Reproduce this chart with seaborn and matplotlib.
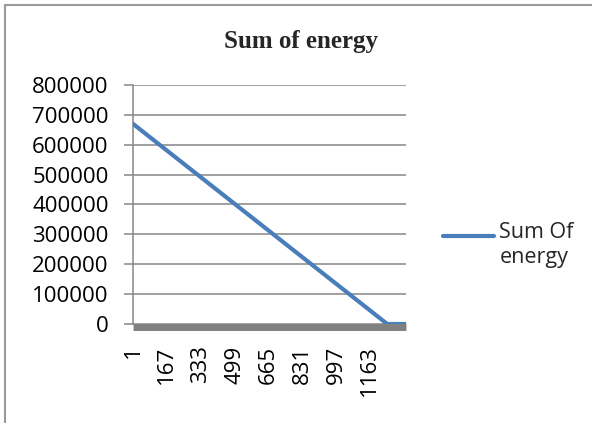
import pandas as pd
import matplotlib
matplotlib.use("Agg")
import matplotlib.pyplot as plt
import seaborn as sns
from matplotlib.lines import Line2D

# values: row number vs. summed energy
row = [1, 1248, 1340]
energy = [670000, 0, 0]
x_ticks = [1, 167, 333, 499, 665, 831, 997, 1163]
y_ticks = [0, 100000, 200000, 300000, 400000, 500000, 600000, 700000, 800000]

df = pd.DataFrame({"row": row, "energy": energy})

sns.set_theme(style="white")
plt.rcParams["font.family"] = ["Open Sans", "DejaVu Sans"]

fig = plt.figure(figsize=(5.92, 4.23), dpi=100)
ax = fig.add_axes([133 / 592, 1 - 324 / 423, 273 / 592, 239 / 423])

sns.lineplot(data=df, x="row", y="energy", ax=ax, color="#4a7ebb",
             linewidth=3, label="Sum Of\nenergy", zorder=3)

ax.set_xlim(1, 1340)
ax.set_ylim(0, 800000)
ax.set_xticks(x_ticks)
ax.set_xticklabels([str(v) for v in x_ticks])
ax.set_yticks(y_ticks)
ax.set_yticklabels([str(v) for v in y_ticks])
ax.set_xlabel("")
ax.set_ylabel("")

# gridlines and axes in excel grey
ax.yaxis.grid(True, color="#868686", linewidth=1.1)
ax.xaxis.grid(False)
ax.set_axisbelow(True)
for s in ["top", "right"]:
    ax.spines[s].set_visible(False)
ax.spines["left"].set_color("#868686")
ax.spines["left"].set_linewidth(1.1)
ax.spines["bottom"].set_color("#808080")
ax.spines["bottom"].set_linewidth(5)
ax.spines["bottom"].set_capstyle("butt")
ax.spines["bottom"].set_position(("outward", 2.5))

ax.tick_params(axis="y", left=True, length=6.5, width=1.1, color="#868686",
               pad=11, labelsize=16, labelcolor="black")
ax.tick_params(axis="x", bottom=True, length=0, pad=13, labelsize=16,
               labelrotation=90, labelcolor="black")

leg = ax.legend(loc="center left", bbox_to_anchor=(443 / 592, 1 - 245 / 423),
                bbox_transform=fig.transFigure, frameon=False, fontsize=15.5,
                handlelength=2.37, handletextpad=0.25, borderpad=0,
                borderaxespad=0)
# excel puts the legend line level with the first text line
for h in leg.get_lines():
    h.set_ydata([y + 6.5 for y in h.get_ydata()])

fig.text(301 / 592, 1 - 48 / 423, "Sum of energy", ha="center", va="baseline",
         fontsize=18, fontweight="bold", family=["Liberation Serif", "DejaVu Serif"])

# outer chart border (only left and top show in the crop)
fig.add_artist(Line2D([5 / 592, 5 / 592], [0, 1 - 5 / 423],
                      transform=fig.transFigure, color="#9a9a9a", lw=1.5))
fig.add_artist(Line2D([5 / 592, 1], [1 - 5 / 423, 1 - 5 / 423],
                      transform=fig.transFigure, color="#9a9a9a", lw=1.5))

fig.savefig("out.png", dpi=100)
